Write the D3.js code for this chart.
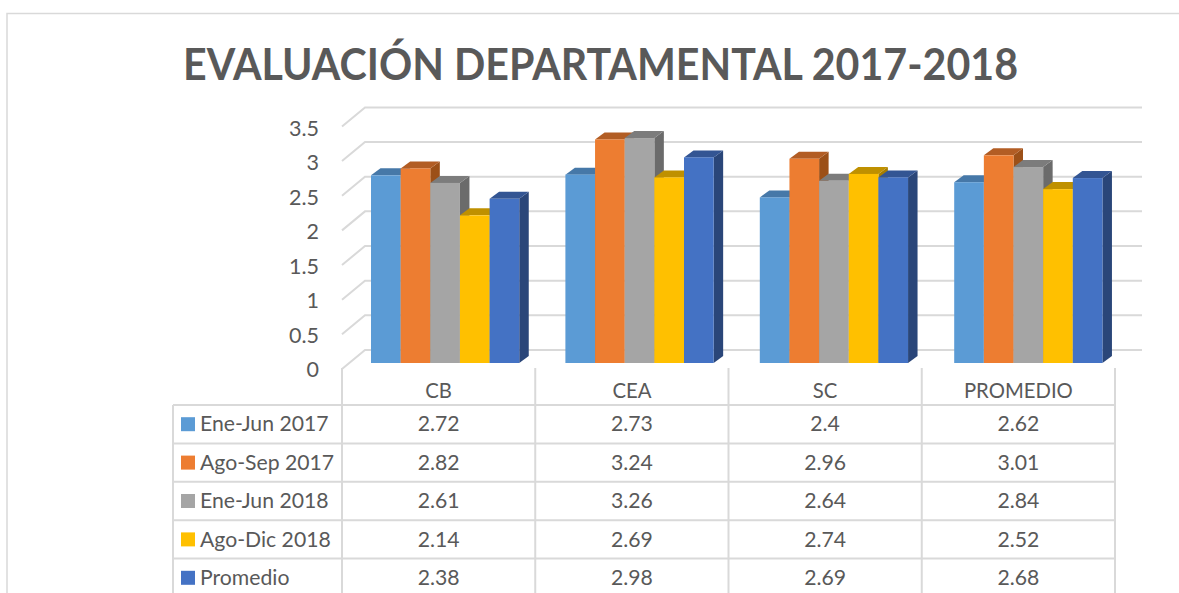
<!DOCTYPE html>
<html>
<head>
<meta charset="utf-8">
<script src="https://cdn.jsdelivr.net/npm/d3@7"></script>
<style>
body { margin: 0; background: #fff; }
text { font-family: Lato, "Open Sans", sans-serif; fill: #595959; }
</style>
</head>
<body>
<div id="chart"></div>
<script>
var title = "EVALUACIÓN DEPARTAMENTAL 2017-2018";
var categories = ["CB", "CEA", "SC", "PROMEDIO"];
var seriesNames = ["Ene-Jun 2017", "Ago-Sep 2017", "Ene-Jun 2018", "Ago-Dic 2018", "Promedio"];
var eneJun2017 = [2.72, 2.73, 2.4, 2.62];
var agoSep2017 = [2.82, 3.24, 2.96, 3.01];
var eneJun2018 = [2.61, 3.26, 2.64, 2.84];
var agoDic2018 = [2.14, 2.69, 2.74, 2.52];
var promedio = [2.38, 2.98, 2.69, 2.68];
var seriesValues = [eneJun2017, agoSep2017, eneJun2018, agoDic2018, promedio];
var yTicks = [0, 0.5, 1, 1.5, 2, 2.5, 3, 3.5];

var frontColor = ["#5b9bd5", "#ed7d31", "#a5a5a5", "#ffc000", "#4472c4"];
var topColor = ["#4678a8", "#b25d24", "#7c7c7c", "#bf9000", "#335593"];
var sideColor = ["#3d6b96", "#9c5018", "#6b6b6b", "#a67d00", "#2a4679"];
var gridColor = "#d9d9d9";

var width = 1179, height = 593;
var svg = d3.select("#chart").append("svg")
    .attr("width", width)
    .attr("height", height)
    .style("display", "block");

// outer frame of the chart, cut by the window on the right and bottom
svg.append("path")
    .attr("d", "M7,593V13.5H1179")
    .attr("fill", "none")
    .attr("stroke", gridColor)
    .attr("stroke-width", 1.5);

svg.append("text")
    .text(title)
    .attr("x", 600.5)
    .attr("y", 80)
    .attr("text-anchor", "middle")
    .attr("font-size", 43)
    .attr("font-weight", 700)
    .attr("textLength", 835)
    .attr("lengthAdjust", "spacingAndGlyphs");

// back wall scale, front edge of the wall and the bars have their own
var y = d3.scaleLinear().domain([0, 3.5]).range([350, 107.4]);
var yBar = d3.scaleLinear().domain([0, 3.5]).range([363, 121.5]);
var wallLeft = 342, wallBack = 365, wallDy = 19;
var depthX = 9.5, depthY = 7;
var x0 = d3.scaleBand().domain(categories).range([342, 1115]);
var xBar = d3.scaleBand().domain(categories).range([342, 342 + 4 * 194.4]);
var barWidth = 29.65, barInset = 29;

var grid = svg.append("g").attr("fill", "none").attr("stroke", gridColor).attr("stroke-width", 2);
yTicks.forEach(function (t) {
    grid.append("path")
        .attr("d", "M" + wallLeft + "," + (y(t) + wallDy) + "L" + wallBack + "," + y(t) + "H1142");
});

// tick labels come from the axis, placed left of the wall
var axis = d3.axisLeft(y.copy().range([370, 128.5]))
    .tickValues(yTicks)
    .tickSize(0)
    .tickPadding(0)
    .tickFormat(d3.format("~g"));
var axisG = svg.append("g").attr("transform", "translate(319,0)").call(axis);
axisG.select(".domain").remove();
axisG.selectAll("text")
    .attr("font-size", 21.5)
    .style("font-family", "Lato, 'Open Sans', sans-serif")
    .style("fill", "#595959");

// bars, left to right so later bars cover the sides of earlier ones
var bars = svg.append("g");
categories.forEach(function (cat, c) {
    seriesValues.forEach(function (vals, s) {
        var left = xBar(cat) + barInset + s * barWidth;
        var right = left + barWidth;
        var topY = yBar(vals[c]);
        var baseY = yBar(0);
        var g = bars.append("g");
        g.append("path")
            .attr("d", "M" + right + "," + topY + "l" + depthX + "," + (-depthY) + "V" + (baseY - depthY) + "L" + right + "," + baseY + "Z")
            .attr("fill", sideColor[s]);
        g.append("path")
            .attr("d", "M" + left + "," + topY + "l" + depthX + "," + (-depthY) + "H" + (right + depthX) + "L" + right + "," + topY + "Z")
            .attr("fill", topColor[s]);
        g.append("rect")
            .attr("x", left)
            .attr("y", topY)
            .attr("width", barWidth)
            .attr("height", baseY - topY)
            .attr("fill", frontColor[s]);
    });
});

// data table under the plot
var rowTop = 405, rowH = 38.4, tableLeft = 173, tableRight = 1115;
var rowY = d3.scaleLinear().domain([0, 1]).range([rowTop, rowTop + rowH]);
var table = svg.append("g").attr("stroke", gridColor).attr("stroke-width", 2);
d3.range(0, seriesNames.length + 1).forEach(function (r) {
    table.append("line")
        .attr("x1", tableLeft).attr("x2", tableRight)
        .attr("y1", rowY(r)).attr("y2", rowY(r));
});
table.append("line")
    .attr("x1", tableLeft).attr("x2", tableLeft)
    .attr("y1", rowTop).attr("y2", height);
categories.concat(["end"]).forEach(function (cat, c) {
    var xx = 342 + c * x0.bandwidth();
    table.append("line")
        .attr("x1", xx).attr("x2", xx)
        .attr("y1", 368).attr("y2", height);
});

svg.append("g").selectAll("text")
    .data(categories)
    .enter().append("text")
    .text(function (d) { return d; })
    .attr("x", function (d) { return x0(d) + x0.bandwidth() / 2; })
    .attr("y", 398)
    .attr("text-anchor", "middle")
    .attr("font-size", 20.3);

seriesNames.forEach(function (name, s) {
    var mid = rowY(s) + rowH / 2;
    svg.append("rect")
        .attr("x", 181).attr("y", mid - 7)
        .attr("width", 14).attr("height", 14)
        .attr("fill", frontColor[s]);
    svg.append("text")
        .text(name)
        .attr("x", 200)
        .attr("y", mid + 7.2)
        .attr("font-size", 21.2);
    categories.forEach(function (cat, c) {
        svg.append("text")
            .text(seriesValues[s][c])
            .attr("x", x0(cat) + x0.bandwidth() / 2)
            .attr("y", mid + 7.2)
            .attr("text-anchor", "middle")
            .attr("font-size", 21.2);
    });
});
</script>
</body>
</html>
